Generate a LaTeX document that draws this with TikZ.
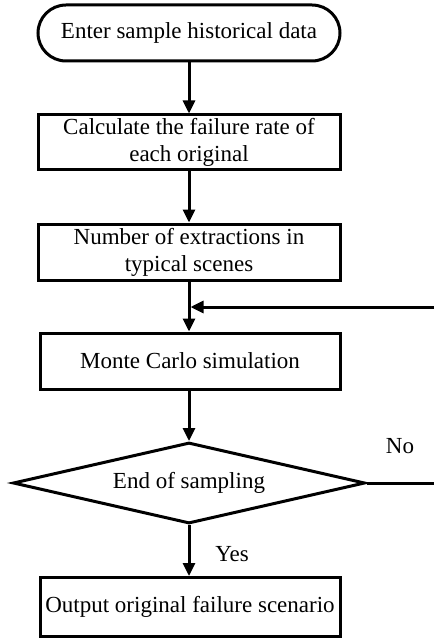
\documentclass[tikz,border=0pt]{standalone}
\usepackage{fontspec}
\setmainfont{Liberation Serif}
\usetikzlibrary{shapes.geometric,arrows.meta}
\begin{document}
\begin{tikzpicture}[x=1pt,y=1pt,
  every node/.style={font=\fontsize{23}{27}\selectfont},
  stepbox/.style={draw,line width=3pt,rectangle,inner sep=0pt,align=center},
  conn/.style={line width=3pt,-{Triangle[length=13pt,width=12pt]}},
  plain/.style={line width=3pt}]
\useasboundingbox (0,0) rectangle (434,-639);
\node[stepbox,rounded corners=28pt,minimum width=302pt,minimum height=56pt] (start) at (189,-33) {Enter sample historical data};
\node[stepbox,minimum width=302pt,minimum height=55pt] (b1) at (189,-142.5) {Calculate the failure rate of\\each original};
\node[stepbox,minimum width=302pt,minimum height=56pt] (b2) at (189,-252) {Number of extractions in\\typical scenes};
\node[stepbox,minimum width=300pt,minimum height=56pt] (b3) at (190,-361) {Monte Carlo simulation};
\node[draw,line width=3pt,diamond,aspect=4.35,inner sep=0pt,minimum width=352pt,minimum height=81pt] (dec) at (189,-483) {End of sampling};
\node[stepbox,minimum width=300pt,minimum height=59pt] (b5) at (190,-607) {Output original failure scenario};
\coordinate (fb) at (434,-307);
\coordinate (noend) at (434,-483);
\draw[conn] (start.south) -- (b1.north);
\draw[conn] (b1.south) -- (b2.north);
\draw[conn] (b2.south) -- (b2.south |- b3.north);
\draw[conn] (fb) -- ([xshift=1.5pt]b2.south |- fb);
\draw[conn] (b3.south -| dec.north) -- (dec.north);
\draw[plain] (dec.east) -- (noend);
\draw[conn] (dec.south) -- (dec.south |- b5.north);
\node (no) at (400,-446) {No};
\node (yes) at (232,-554) {Yes};
\end{tikzpicture}
\end{document}
